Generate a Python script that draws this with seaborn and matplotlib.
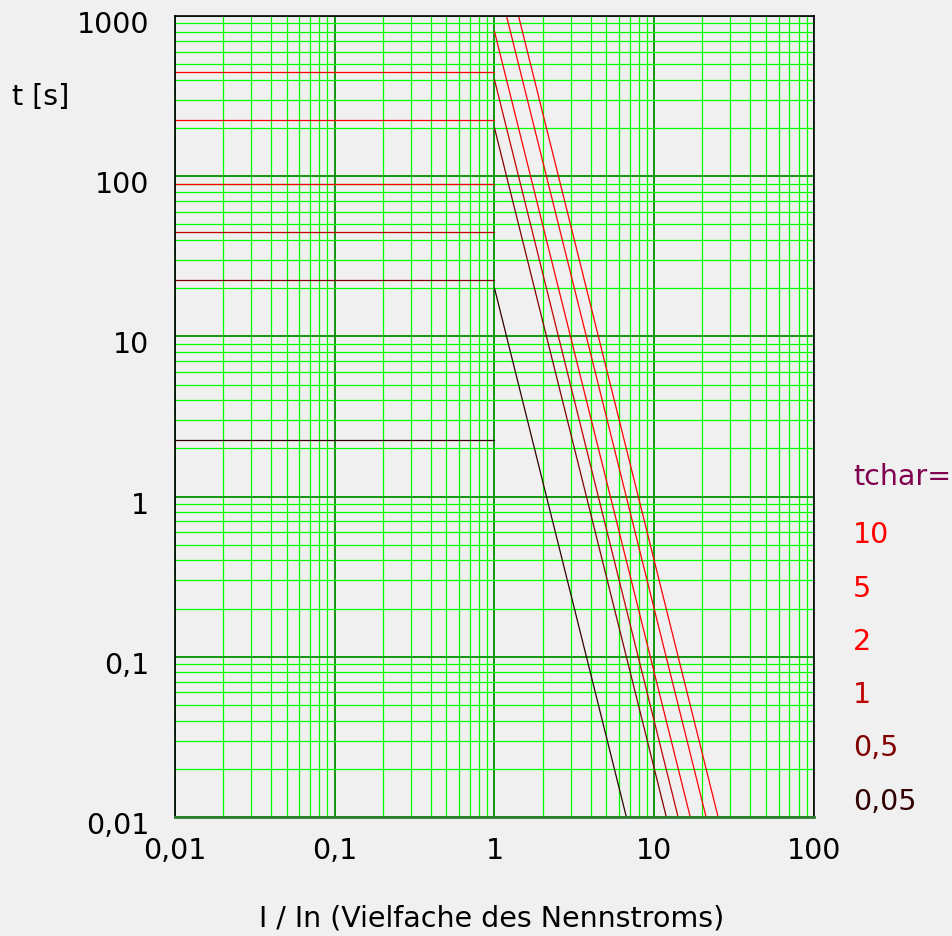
import numpy as np
import pandas as pd
import matplotlib
matplotlib.use('Agg')
import matplotlib.pyplot as plt
import matplotlib.transforms as mtransforms
import seaborn as sns

## =============================== ##
## values

tchar_labels = ['0,05', '0,5', '1', '2', '5', '10']
curve_colors = ['#300000', '#800000', '#c00000', '#ff0000', '#ff0000', '#ff0000']
t_flat = [2.25, 22.5, 45., 90., 225., 450.]          # t below I/In = 1
t_at_one = [20., 200., 400., 800., 2000., 4000.]     # start of steep branch at I/In = 1
i_end = [6.69, 11.9, 14.1, 16.8, 21.1, 25.1]         # I/In where t reaches 0.01 s

x_ticks = [0.01, 0.1, 1, 10, 100]
x_ticklabels = ['0,01', '0,1', '1', '10', '100']
y_ticks = [0.01, 0.1, 1, 10, 100, 1000]
y_ticklabels = ['0,01', '0,1', '1', '10', '100', '1000']

## =============================== ##

rows = []
for lab, tf, t1, ie in zip(tchar_labels, t_flat, t_at_one, i_end):
	rows.append((lab, 'flat', 0.01, tf))
	rows.append((lab, 'flat', 1., tf))
	rows.append((lab, 'steep', 1., t1))
	rows.append((lab, 'steep', ie, 0.01))
df = pd.DataFrame(rows, columns=['tchar', 'seg', 'I', 't'])

BG = '#f0f0f0'
sns.set_theme(style='white', rc={'figure.facecolor': BG, 'axes.facecolor': BG,
				'text.color': 'black', 'xtick.color': 'black', 'ytick.color': 'black'})
plt.rcParams['font.family'] = ['DejaVu Sans']
FS = 20.5

fig = plt.figure(figsize=(9.53, 9.37), dpi=100)
ax = fig.add_axes([175/953, 1-818/937, 639/953, 801/937])
ax.set_xscale('log')
ax.set_yscale('log')
ax.set_xlim(0.01, 100)
ax.set_ylim(0.01, 1000)
ax.set_axisbelow(True)
ax.grid(which='minor', color='#00ff00', lw=0.9)
ax.grid(which='major', color='#009000', lw=1.3)
ax.xaxis.set_minor_locator(matplotlib.ticker.LogLocator(base=10, subs=np.arange(2, 10), numticks=20))
ax.yaxis.set_minor_locator(matplotlib.ticker.LogLocator(base=10, subs=np.arange(2, 10), numticks=20))

sns.lineplot(data=df, x='I', y='t', hue='tchar', units='seg', estimator=None, sort=False,
			palette=dict(zip(tchar_labels, curve_colors)), lw=0.9, legend=False, ax=ax)

ax.set_xticks(x_ticks)
ax.set_xticklabels(x_ticklabels, fontsize=FS)
ax.set_yticks(y_ticks)
ax.set_yticklabels(y_ticklabels, fontsize=FS)
ax.xaxis.set_minor_formatter(matplotlib.ticker.NullFormatter())
ax.yaxis.set_minor_formatter(matplotlib.ticker.NullFormatter())
ax.tick_params(which='both', length=0)
ax.tick_params(axis='y', pad=18.5)
ax.tick_params(axis='x', pad=13.5)
# y labels sit a few pixels below their grid lines in the reference
shift = mtransforms.ScaledTranslation(0, -5/100, fig.dpi_scale_trans)
for lbl in ax.get_yticklabels():
	lbl.set_transform(lbl.get_transform() + shift)
ax.set_xlabel('')
ax.set_ylabel('')
for s in ['left', 'top', 'right']:
	ax.spines[s].set_color('black')
	ax.spines[s].set_linewidth(1.2)
ax.spines['bottom'].set_color('#2e7d32')
ax.spines['bottom'].set_linewidth(2.)

fig.text(12/953, 1-97/937, 't [s]', ha='left', va='center', fontsize=FS)
fig.text(492/953, 1-919/937, 'I / In (Vielfache des Nennstroms)', ha='center', va='center', fontsize=FS)

fig.text(853/953, 1-477/937, 'tchar=', ha='left', va='center', fontsize=FS, color='#800050')
label_y = [802, 748, 695, 642, 589, 535]
for lab, col, yy in zip(tchar_labels, curve_colors, label_y):
	fig.text(853/953, 1-yy/937, lab, ha='left', va='center', fontsize=FS, color=col)

fig.savefig('out.png', dpi=100, facecolor=BG)
